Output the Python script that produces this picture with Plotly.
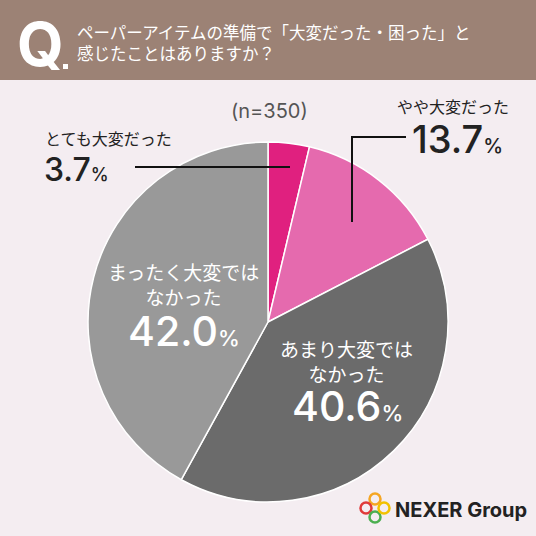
import plotly.graph_objects as go

# ---- data ----
categories = ["とても大変だった", "やや大変だった", "あまり大変ではなかった", "まったく大変ではなかった"]
values = [3.7, 13.7, 40.6, 42.0]
colors = ["#e0207f", "#e56aae", "#6b6b6b", "#999999"]
value_labels = ["3.7", "13.7", "40.6", "42.0"]
sample_note = "(n=350)"
question_lines = ["ペーパーアイテムの準備で「大変だった・困った」と", "感じたことはありますか？"]

W = H = 536
JP = "Noto Sans CJK JP"
NUM = "Inter"


def px(x):
    return x / W


def py(y):
    return 1 - y / H


fig = go.Figure()
fig.add_trace(go.Pie(
    labels=categories, values=values, sort=False, direction="clockwise", rotation=0,
    marker=dict(colors=colors, line=dict(color="#ffffff", width=1.5)),
    textinfo="none", hoverinfo="skip", showlegend=False,
    domain=dict(x=[px(88), px(448)], y=[py(502), py(142)]),
))

shapes = []
annotations = []


def note(x, y, text, size, color, family=JP, xanchor="center", weight=None, align="center"):
    f = dict(family=family, size=size, color=color)
    if weight:
        f["weight"] = weight
    annotations.append(dict(x=px(x), y=py(y), xref="paper", yref="paper", text=text,
                            xanchor=xanchor, yanchor="middle", showarrow=False, font=f, align=align))


# header band
shapes.append(dict(type="rect", xref="paper", yref="paper", x0=0, x1=1, y0=py(80), y1=1,
                   fillcolor="#9c8275", line=dict(width=0), layer="below"))
note(40, 44, "<b>Q</b>", 60, "white", family=NUM)
shapes.append(dict(type="rect", xref="paper", yref="paper", x0=px(63), x1=px(68), y0=py(69), y1=py(64),
                   fillcolor="white", line=dict(width=0)))
note(75, 42, "<br>".join(question_lines), 16.5, "white", xanchor="left", align="left")

# sample size
note(269, 111, sample_note, 20, "#555555", family=NUM)


def pct(v, big, small):
    return (f"<span style='font-size:{big}px'>{v}</span>"
            f"<span style='font-size:{small}px'>%</span>")


# とても大変だった
note(43, 138, categories[0], 16, "#222222", xanchor="left")
note(42, 169, pct(value_labels[0], 32, 18), 30, "#222222", family=NUM, xanchor="left", weight=500)
shapes.append(dict(type="line", xref="paper", yref="paper", x0=px(135), x1=px(290), y0=py(167), y1=py(167),
                   line=dict(color="#111111", width=2)))

# やや大変だった
note(453, 106, categories[1], 16, "#222222")
note(410, 139, pct(value_labels[1], 38, 20), 36, "#222222", family=NUM, xanchor="left", weight=500)
shapes.append(dict(type="path", xref="paper", yref="paper",
                   path=f"M {px(352)} {py(222)} L {px(352)} {py(137)} L {px(406)} {py(137)}",
                   line=dict(color="#111111", width=2)))

# まったく大変ではなかった
note(183, 284, "まったく大変では<br>なかった", 19, "white")
note(184, 331, pct(value_labels[3], 41, 22), 40, "white", family=NUM, weight=500)

# あまり大変ではなかった
note(346, 361, "あまり大変では<br>なかった", 19, "white")
note(347, 406, pct(value_labels[2], 41, 22), 40, "white", family=NUM, weight=500)

# logo
rings = [(375, 499, "#f5a623"), (366, 508, "#e03a3a"), (375, 517, "#4caf50"), (384, 508, "#f2c200")]
for cx, cy, c in rings:
    r = 5.5
    shapes.append(dict(type="circle", xref="paper", yref="paper", x0=px(cx - r), x1=px(cx + r),
                       y0=py(cy + r), y1=py(cy - r), line=dict(color=c, width=2.5)))
note(393, 510, "<b>NEXER Group</b>", 20, "#222222", family=NUM, xanchor="left")

fig.update_layout(
    width=W, height=H, margin=dict(l=0, r=0, t=0, b=0),
    paper_bgcolor="#f4edf1", plot_bgcolor="#f4edf1",
    shapes=shapes, annotations=annotations, showlegend=False,
)
fig.write_html("out.html", config={"displayModeBar": False},
               post_script="document.body.style.margin='0';")
